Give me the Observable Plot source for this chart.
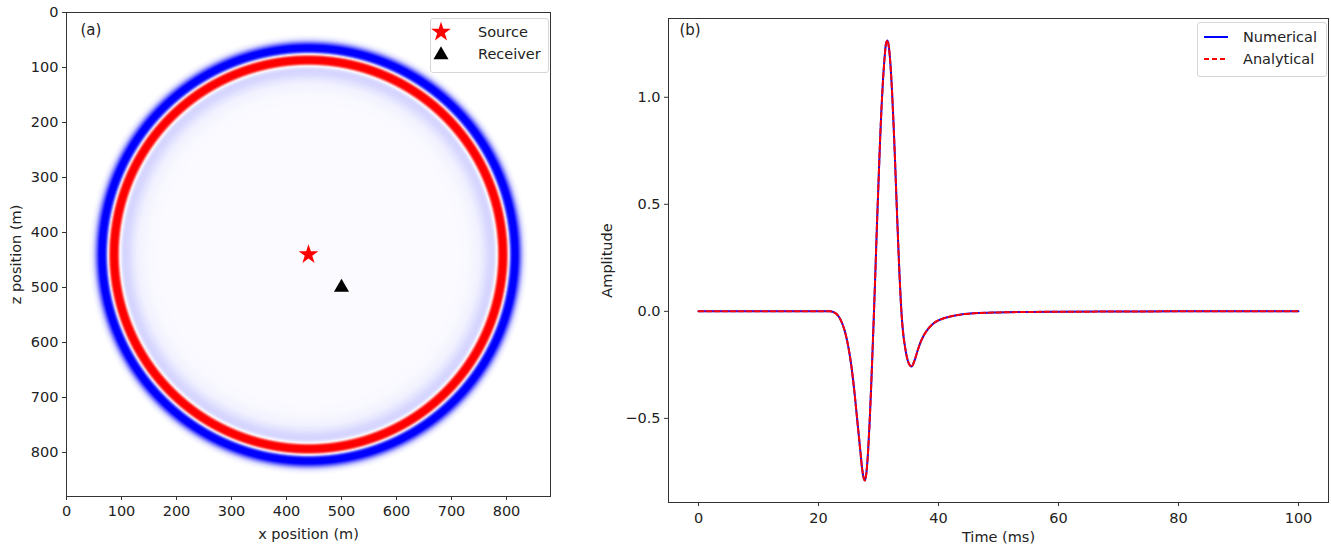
<!DOCTYPE html>
<html>
<head>
<meta charset="utf-8">
<script src="https://cdn.jsdelivr.net/npm/d3@7"></script>
<script src="https://cdn.jsdelivr.net/npm/@observablehq/plot@0.6"></script>
<style>
  html, body { margin: 0; padding: 0; background: #fff; }
  #root { position: relative; width: 1331px; height: 547px; background: #fff; overflow: hidden;
          font-family: "DejaVu Sans", sans-serif; color: #222; }
  .panel { position: absolute; top: 0; }
  .legend { position: absolute; background: rgba(255,255,255,0.85); border: 1px solid #d6d6d6; border-radius: 3px; }
  .legend svg { display: block; }
</style>
</head>
<body>
<div id="root">
  <div id="pa" class="panel" style="left:0px"></div>
  <div id="pb" class="panel" style="left:560px"></div>
</div>
<script>
// ---------- Panel (a): wavefield snapshot ----------
const xTicksA = [0, 100, 200, 300, 400, 500, 600, 700, 800];
const zTicksA = [0, 100, 200, 300, 400, 500, 600, 700, 800];
const sourceX = [440];
const sourceZ = [440];
const receiverX = [500];
const receiverZ = [500];
// radial profile of the wavefield around the source (distance in m, normalised amplitude)
const ringRadius = [0, 250, 290, 310, 320, 328, 335, 340, 343, 344, 347, 350, 357, 360, 362.5, 364.5, 366, 369, 372, 379, 383, 387, 391, 395, 400, 1300];
const ringValue  = [-0.015, -0.015, -0.025, -0.05, -0.1, -0.15, -0.17, -0.1, 0.05, 0.3, 0.85, 1.15, 1.15, 0.85, 0.35, 0.0, -0.4, -0.85, -1.1, -1.1, -0.75, -0.4, -0.15, -0.05, 0, 0];

// ---------- Panel (b): receiver trace ----------
const timeMs = [0, 5, 10, 15, 20, 21, 22, 22.5, 23, 23.5, 24, 24.5, 25, 25.5, 26, 26.5, 27, 27.25, 27.5, 27.75, 28, 28.25, 28.5, 28.75, 29, 29.25, 29.5, 29.75, 30, 30.25, 30.5, 30.75, 31, 31.25, 31.5, 31.75, 32, 32.25, 32.5, 32.75, 33, 33.25, 33.5, 33.75, 34, 34.5, 35, 35.5, 36, 36.5, 37, 37.5, 38, 39, 40, 41, 42, 44, 46, 50, 55, 60, 70, 80, 90, 100];
const ampNumerical = [0, 0, 0, 0, 0, 0, 0, -0.004, -0.012, -0.03, -0.06, -0.105, -0.17, -0.26, -0.38, -0.52, -0.66, -0.73, -0.775, -0.79, -0.75, -0.66, -0.53, -0.37, -0.19, 0.0, 0.2, 0.41, 0.6, 0.79, 0.95, 1.08, 1.18, 1.25, 1.265, 1.23, 1.15, 1.03, 0.88, 0.71, 0.52, 0.34, 0.17, 0.03, -0.07, -0.18, -0.24, -0.258, -0.23, -0.185, -0.145, -0.115, -0.092, -0.06, -0.042, -0.031, -0.024, -0.014, -0.009, -0.005, -0.003, -0.002, -0.001, 0, 0, 0];
const ampAnalytical = [0, 0, 0, 0, 0, 0, 0, -0.004, -0.012, -0.03, -0.06, -0.105, -0.17, -0.26, -0.38, -0.52, -0.66, -0.73, -0.775, -0.79, -0.75, -0.66, -0.53, -0.37, -0.19, 0.0, 0.2, 0.41, 0.6, 0.79, 0.95, 1.08, 1.18, 1.25, 1.265, 1.23, 1.15, 1.03, 0.88, 0.71, 0.52, 0.34, 0.17, 0.03, -0.07, -0.18, -0.24, -0.258, -0.23, -0.185, -0.145, -0.115, -0.092, -0.06, -0.042, -0.031, -0.024, -0.014, -0.009, -0.005, -0.003, -0.002, -0.001, 0, 0, 0];
const timeTicks = [0, 20, 40, 60, 80, 100];
const ampTicks = [-0.5, 0.0, 0.5, 1.0];

// ---------- build ----------
const FONT = "DejaVu Sans, sans-serif";
const profile = d3.scaleLinear().domain(ringRadius).range(ringValue).clamp(true);
const sources = sourceX.map((x, i) => ({x, z: sourceZ[i]}));
const receivers = receiverX.map((x, i) => ({x, z: receiverZ[i]}));
const bwr = d3.piecewise(d3.interpolateRgb, ["#0000ff", "#ffffff", "#ff0000"]);

const plotA = Plot.plot({
  width: 560, height: 547,
  marginLeft: 66, marginRight: 10, marginTop: 12, marginBottom: 51,
  style: {fontFamily: FONT, fontSize: "14.5px", color: "#222", background: "transparent", overflow: "visible"},
  x: {domain: [0, 880]},
  y: {domain: [0, 880], reverse: true},
  color: {type: "linear", domain: [-1, 1], interpolate: bwr, clamp: true},
  marks: [
    Plot.raster({x1: 0, y1: 0, x2: 880, y2: 880, width: 484, height: 484,
      fill: (x, y) => profile(Math.hypot(x - sourceX[0], y - sourceZ[0]))}),
    Plot.frame({stroke: "#333", strokeWidth: 1}),
    Plot.axisX({ticks: xTicksA, tickSize: 4, tickPadding: 5, stroke: "#333", label: "x position (m)", labelAnchor: "center", labelOffset: 42, labelArrow: "none"}),
    Plot.axisY({ticks: zTicksA, tickSize: 4, tickPadding: 4, stroke: "#333", label: "z position (m)", labelAnchor: "center", labelOffset: 56, labelArrow: "none"}),
    Plot.dot(sources, {x: "x", y: "z", symbol: "star", fill: "#ff0000", stroke: "none", r: 6.2}),
    Plot.dot(receivers, {x: "x", y: "z", symbol: "triangle", fill: "#000", stroke: "none", r: 5.6}),
    Plot.text(["(a)"], {frameAnchor: "top-left", dx: 14, dy: 12, fontSize: 15})
  ]
});
document.getElementById("pa").appendChild(plotA);

const trace = timeMs.map((t, i) => ({t, num: ampNumerical[i], ana: ampAnalytical[i]}));
const plotB = Plot.plot({
  width: 771, height: 547,
  marginLeft: 108, marginRight: 3, marginTop: 18, marginBottom: 45,
  style: {fontFamily: FONT, fontSize: "14.5px", color: "#222", background: "transparent", overflow: "visible"},
  x: {domain: [-5, 105]},
  y: {domain: [-0.893, 1.368]},
  marks: [
    Plot.frame({stroke: "#333", strokeWidth: 1}),
    Plot.axisX({ticks: timeTicks, tickSize: 4, tickPadding: 6, stroke: "#333", label: "Time (ms)", labelAnchor: "center", labelOffset: 39, labelArrow: "none"}),
    Plot.axisY({ticks: ampTicks, tickFormat: d3.format(".1f"), tickSize: 4, tickPadding: 4, stroke: "#333", label: "Amplitude", labelAnchor: "center", labelOffset: 67, labelArrow: "none"}),
    Plot.line(trace, {x: "t", y: "num", stroke: "#0000ff", strokeWidth: 2, curve: "monotone-x"}),
    Plot.line(trace, {x: "t", y: "ana", stroke: "#ff0000", strokeWidth: 2, strokeDasharray: "5,3", curve: "monotone-x"}),
    Plot.text(["(b)"], {frameAnchor: "top-left", dx: 11, dy: 6, fontSize: 15})
  ]
});
document.getElementById("pb").appendChild(plotB);

// ---------- legends ----------
const NS = "http://www.w3.org/2000/svg";
function legendBox(left, top, w, h, items) {
  const div = document.createElement("div");
  div.className = "legend";
  div.style.left = left + "px"; div.style.top = top + "px";
  div.style.width = w + "px"; div.style.height = h + "px";
  const svg = document.createElementNS(NS, "svg");
  svg.setAttribute("width", w); svg.setAttribute("height", h);
  items.forEach(it => {
    const g = document.createElementNS(NS, "g");
    g.innerHTML = it.glyph;
    svg.appendChild(g);
    const t = document.createElementNS(NS, "text");
    t.setAttribute("x", it.tx); t.setAttribute("y", it.ty);
    t.setAttribute("dy", "0.35em");
    t.setAttribute("font-family", FONT); t.setAttribute("font-size", "14.5");
    t.setAttribute("fill", "#222");
    t.textContent = it.label;
    svg.appendChild(t);
  });
  div.appendChild(svg);
  document.getElementById("root").appendChild(div);
}
const starPath = d3.symbol(d3.symbolStar, Math.PI * 6.2 * 6.2)();
const triPath = d3.symbol(d3.symbolTriangle, Math.PI * 5.6 * 5.6)();
legendBox(430, 18, 117, 53, [
  {glyph: `<path transform="translate(10,13)" d="${starPath}" fill="#ff0000"/>`, tx: 47, ty: 13, label: "Source"},
  {glyph: `<path transform="translate(10,36)" d="${triPath}" fill="#000"/>`, tx: 47, ty: 35, label: "Receiver"}
]);
legendBox(1197, 22, 128, 53, [
  {glyph: `<line x1="6" x2="30" y1="14" y2="14" stroke="#0000ff" stroke-width="2"/>`, tx: 45, ty: 14, label: "Numerical"},
  {glyph: `<line x1="6" x2="30" y1="36" y2="36" stroke="#ff0000" stroke-width="2" stroke-dasharray="5,3"/>`, tx: 45, ty: 36, label: "Analytical"}
]);
</script>
</body>
</html>
